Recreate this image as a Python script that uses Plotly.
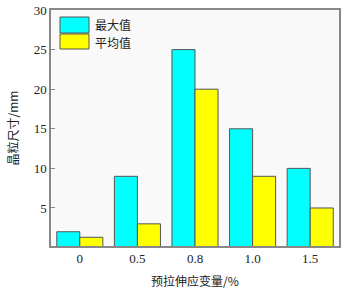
import plotly.graph_objects as go

categories = ["0", "0.5", "0.8", "1.0", "1.5"]
max_values = [2, 9, 25, 15, 10]
mean_values = [1.3, 3, 20, 9, 5]
y_ticks = [5, 10, 15, 20, 25, 30]
series_names = ["最大值", "平均值"]
series_colors = ["#00FFFF", "#FFFF00"]

serif = "Liberation Serif, Times New Roman, serif"
cjk = "Noto Sans CJK SC, serif"

W, H = 348, 292
L, R, T, B = 51, 9, 10, 46

fig = go.Figure()
for name, vals, col in zip(series_names, [max_values, mean_values], series_colors):
    fig.add_trace(go.Bar(x=categories, y=vals, name=name, showlegend=False,
                         marker=dict(color=col, line=dict(color="#555555", width=1))))

# custom legend (paper coords) to mimic large swatches
pw, ph = W - L - R, H - T - B
def px_x(x):
    return (x - L) / pw
def px_y(y):
    return 1 - (y - T) / ph

shapes = []
annotations = []
rows = [(17, 33), (34, 49)]
text_centers = [24.5, 42.5]
for (y0, y1), yc, name, col in zip(rows, text_centers, series_names, series_colors):
    shapes.append(dict(type="rect", xref="paper", yref="paper",
                       x0=px_x(60), x1=px_x(89), y0=px_y(y1), y1=px_y(y0),
                       fillcolor=col, line=dict(color="#555555", width=1)))
    annotations.append(dict(xref="paper", yref="paper", x=px_x(94), y=px_y(yc),
                            text=name, showarrow=False, xanchor="left", yanchor="middle",
                            borderpad=0, font=dict(family=cjk, size=12, color="#222222")))

fig.update_layout(
    width=W, height=H,
    margin=dict(l=L, r=R, t=T, b=B),
    paper_bgcolor="white",
    plot_bgcolor="#f9f9f9",
    barmode="group",
    bargap=0.2,
    bargroupgap=0,
    showlegend=False,
    shapes=shapes,
    annotations=annotations,
    font=dict(family=serif, size=13, color="#222222"),
    xaxis=dict(showline=True, linecolor="#888888", linewidth=1.5, mirror=True,
               ticks="", showgrid=False, automargin=False,
               title=dict(text="预拉伸应变量/%", font=dict(family=cjk, size=12), standoff=12)),
    yaxis=dict(range=[0.2, 30], tickvals=y_ticks, showline=True, linecolor="#888888",
               linewidth=1.5, mirror=True, ticks="inside", ticklen=4, tickcolor="#888888",
               showgrid=False, zeroline=False, automargin=False,
               title=dict(text="晶粒尺寸/mm", font=dict(family=cjk, size=12), standoff=12)),
)

fig.write_html("out.html", config={"displayModeBar": False},
               post_script="document.body.style.margin='0';document.body.style.overflow='hidden';")
